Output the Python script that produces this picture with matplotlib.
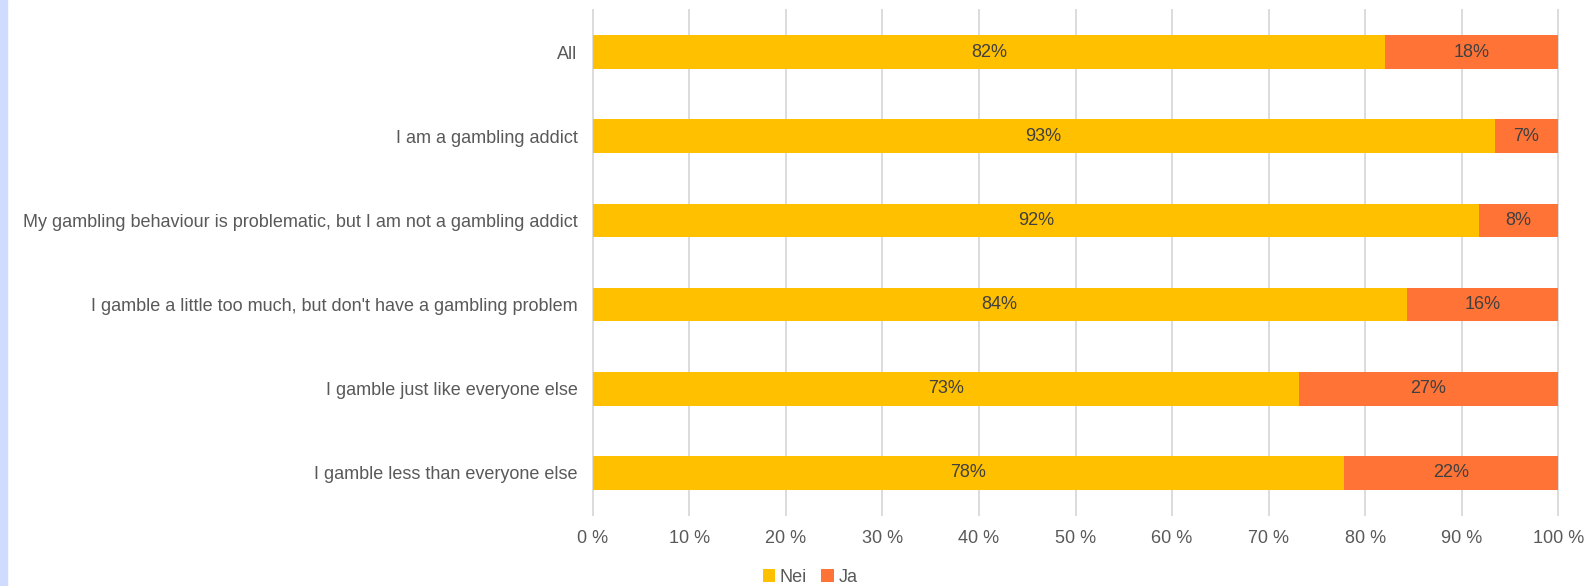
import matplotlib
matplotlib.use("Agg")
import matplotlib.pyplot as plt
from matplotlib.patches import Rectangle
import matplotlib.ticker as ticker
import numpy as np

plt.rcParams['font.family'] = ['Liberation Sans', 'DejaVu Sans']

categories = ['All',
              'I am a gambling addict',
              'My gambling behaviour is problematic, but I am not a gambling addict',
              "I gamble a little too much, but don't have a gambling problem",
              'I gamble just like everyone else',
              'I gamble less than everyone else']
nei = np.array([82.1, 93.4, 91.8, 84.3, 73.1, 77.8])
ja = 100 - nei
nei_labels = ['82%', '93%', '92%', '84%', '73%', '78%']
ja_labels = ['18%', '7%', '8%', '16%', '27%', '22%']

c_nei = '#FFC000'
c_ja = '#FF7337'

W, H = 1589, 586
fig = plt.figure(figsize=(W / 100, H / 100), dpi=100)
# light blue strip at left edge
fig.patches.append(Rectangle((0, 0), 7 / W, 1, transform=fig.transFigure,
                             color='#CFDCFF', zorder=0))

ax = fig.add_axes([592.7 / W, 1 - 515 / H, (1558.3 - 592.7) / W, (515 - 10) / H])

y = np.arange(len(categories))
ax.barh(y, nei, height=0.4, color=c_nei, zorder=2, label='Nei')
ax.barh(y, ja, left=nei, height=0.4, color=c_ja, zorder=2, label='Ja')

for i in range(len(categories)):
    ax.text(nei[i] / 2, y[i], nei_labels[i], ha='center', va='center',
            fontsize=13, color='#404040', zorder=3)
    ax.text(nei[i] + ja[i] / 2, y[i], ja_labels[i], ha='center', va='center',
            fontsize=13, color='#404040', zorder=3)

ax.set_xlim(0, 100)
ax.set_ylim(len(categories) - 0.5, -0.5)
ax.set_yticks(y)
ax.set_yticklabels(categories)
ax.xaxis.set_major_locator(ticker.MultipleLocator(10))
ax.xaxis.set_major_formatter(ticker.FuncFormatter(lambda v, p: '%d %%' % v))
ax.tick_params(axis='both', length=0, labelsize=13, colors='#595959')
ax.tick_params(axis='y', pad=11)
ax.tick_params(axis='x', pad=10.5)
ax.grid(axis='x', color='#D9D9D9', linewidth=1.3, zorder=0)
for gl in ax.get_xgridlines():
    gl.set_clip_on(False)
for s in ax.spines.values():
    s.set_visible(False)

leg = fig.legend(loc='center', bbox_to_anchor=(810 / W, 1 - 577 / H), ncol=2,
                 frameon=False, fontsize=13, handlelength=0.7, handleheight=0.7,
                 handletextpad=0.25, columnspacing=0.8, labelcolor='#595959')

fig.savefig('out.png', dpi=100)
